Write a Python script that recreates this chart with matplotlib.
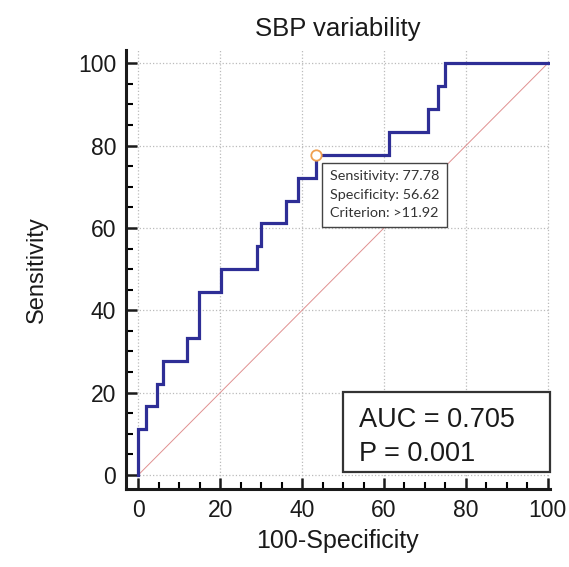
import numpy as np
import matplotlib.pyplot as plt
from matplotlib.patches import Rectangle

plt.rcParams['font.family'] = ['Liberation Sans', 'DejaVu Sans']

# ROC curve step points (100-Specificity, Sensitivity)
fpr = [0, 0, 2.0, 2.0, 4.6, 4.6, 6.0, 6.0, 11.9, 11.9, 14.9, 14.9, 20.3, 20.3,
       29.0, 29.0, 30.0, 30.0, 36.0, 36.0, 39.0, 39.0, 43.38, 43.38,
       61.3, 61.3, 70.7, 70.7, 73.1, 73.1, 74.8, 74.8, 100]
tpr = [0, 11.11, 11.11, 16.67, 16.67, 22.22, 22.22, 27.78, 27.78, 33.33, 33.33,
       44.44, 44.44, 50.0, 50.0, 55.56, 55.56, 61.11, 61.11, 66.67, 66.67,
       72.22, 72.22, 77.78, 77.78, 83.33, 83.33, 88.89, 88.89, 94.44, 94.44,
       100, 100]
cut_x = 100 - 56.62
cut_y = 77.78
cut_lines = ["Sensitivity: 77.78", "Specificity: 56.62", "Criterion: >11.92"]
auc_lines = ["AUC = 0.705", "P = 0.001"]
ticks = [0, 20, 40, 60, 80, 100]

fig = plt.figure(figsize=(5.69, 5.67), dpi=100)
ax = fig.add_axes([0.2214, 0.1376, 0.745, 0.774])

ax.plot([0, 100], [0, 100], color="#e09090", lw=0.7, zorder=2)
ax.plot(fpr, tpr, color="#2e2e96", lw=2.3, zorder=3, solid_joinstyle="miter")
ax.plot([cut_x], [cut_y], "o", ms=7.5, mfc="white", mec="#f0a050", mew=1.3, zorder=4)

# criterion box
ax.add_patch(Rectangle((44.8, 60.2), 30.7, 15.6, fill=True, fc="white",
                       ec="#444444", lw=1.0, zorder=5))
for i, s in enumerate(cut_lines):
    ax.text(46.8, 72.6 - 4.5 * i, s, fontsize=10.4, family=["Lato", "DejaVu Sans"],
            color="#333333", va="center", ha="left", zorder=6)

# AUC box
ax.add_patch(Rectangle((50.0, 0.7), 50.5, 19.4, fill=True, fc="white",
                       ec="#333333", lw=1.6, zorder=5, clip_on=False))
ax.text(53.8, 11.7, auc_lines[0], fontsize=19.5, va="baseline", ha="left",
        color="#1a1a1a", zorder=6)
ax.text(53.8, 3.5, auc_lines[1], fontsize=19.5, va="baseline", ha="left",
        color="#1a1a1a", zorder=6)

ax.set_xlim(-3, 100.5)
ax.set_ylim(-3.4, 103.2)
ax.set_xticks(ticks)
ax.set_yticks(ticks)
ax.set_xticks(np.arange(0, 101, 5), minor=True)
ax.set_yticks(np.arange(0, 101, 5), minor=True)
ax.tick_params(which="major", direction="in", length=8, width=1.8, labelsize=16.5,
               pad=7, colors="#1a1a1a")
ax.tick_params(which="minor", direction="in", length=5, width=1.5)
ax.grid(True, which="major", color="#bbbbbb", ls=":", lw=0.9, zorder=0)

for side in ["top", "right"]:
    ax.spines[side].set_visible(False)
for side in ["left", "bottom"]:
    ax.spines[side].set_linewidth(2.2)
    ax.spines[side].set_color("#1a1a1a")

ax.set_title("SBP variability", fontsize=18.5, pad=10, color="#1a1a1a")
ax.set_xlabel("100-Specificity", fontsize=18, labelpad=5, color="#1a1a1a")
ax.set_ylabel("Sensitivity", fontsize=17, labelpad=22, color="#1a1a1a")

fig.savefig("out.png", dpi=100)
